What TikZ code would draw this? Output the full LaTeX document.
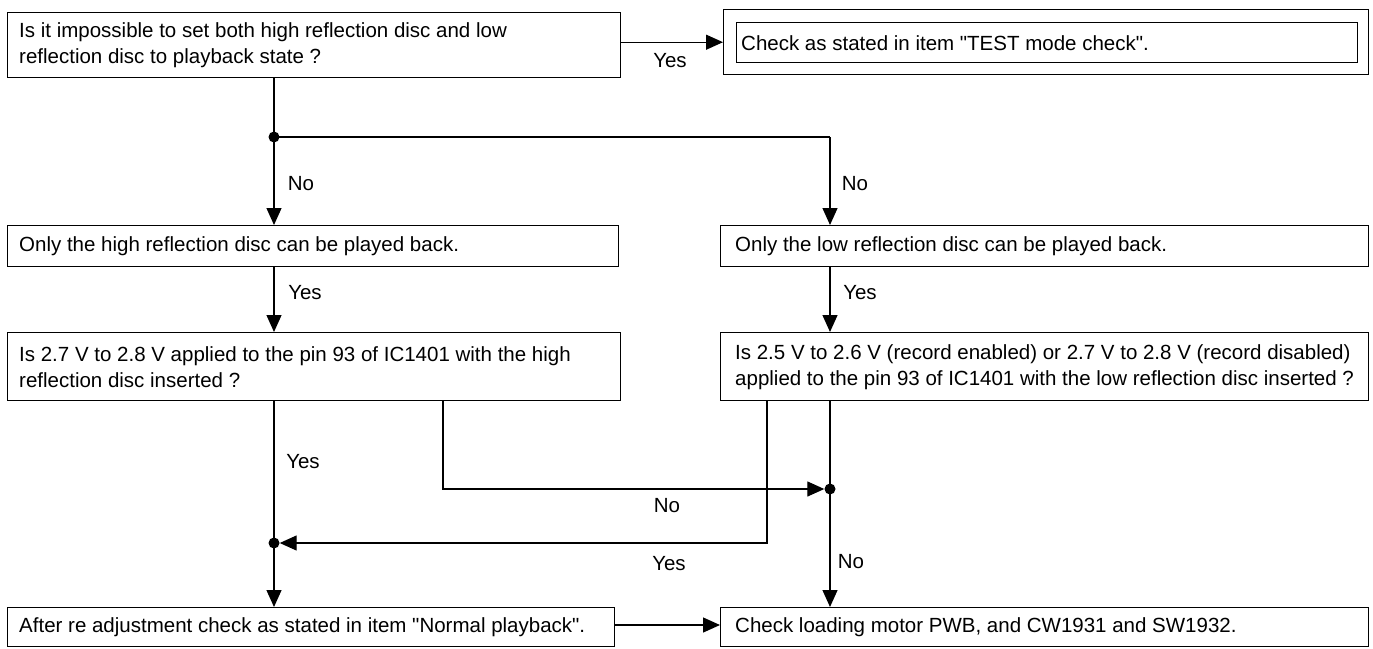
\documentclass[tikz,border=0pt]{standalone}
\usepackage{fontspec}
\setmainfont{Liberation Sans}[Ligatures=TeXOff]
\usetikzlibrary{arrows.meta}
\tikzset{
  frame/.style={draw, line width=1.4pt, anchor=north west, inner sep=0pt},
  txt/.style={anchor=west, inner sep=0pt, align=left, font=\fontsize{20.5}{26}\selectfont},
  conn/.style={line width=1.3pt},
  arr/.style={line width=1.3pt, -{Triangle[length=17pt,width=15pt]}},
  lbl/.style={font=\fontsize{20.5}{24}\selectfont, inner sep=0pt},
  dot/.style={circle, fill=black, inner sep=0pt, minimum size=11pt}
}
\begin{document}
\begin{tikzpicture}[x=1pt,y=-1pt]
\useasboundingbox (0,0) rectangle (1373,648);
% boxes
\node[frame, minimum width=613pt, minimum height=65pt] (A) at (7,12) {};
\node[txt] (At) at ([xshift=12pt]A.west) {Is it impossible to set both high reflection disc and low\\reflection disc to playback state ?};
\node[frame, minimum width=645pt, minimum height=65pt] (B) at (723,9) {};
\node[frame, minimum width=621pt, minimum height=40pt] (Bi) at (736,22) {};
\node[txt] (Bt) at ([xshift=5pt]Bi.west) {Check as stated in item "TEST mode check".};
\node[frame, minimum width=611pt, minimum height=41pt] (C) at (7,225) {};
\node[txt] (Ct) at ([xshift=12pt]C.west) {Only the high reflection disc can be played back.};
\node[frame, minimum width=648pt, minimum height=41pt] (D) at (720,225) {};
\node[txt] (Dt) at ([xshift=15pt]D.west) {Only the low reflection disc can be played back.};
\node[frame, minimum width=613pt, minimum height=68pt] (E) at (7,332) {};
\node[txt] (Et) at ([xshift=12pt]E.west) {Is 2.7 V to 2.8 V applied to the pin 93 of IC1401 with the high\\reflection disc inserted ?};
\node[frame, minimum width=648pt, minimum height=68pt] (F) at (720,332) {};
\node[txt] (Ft) at ([xshift=15pt]F.west) {Is 2.5 V to 2.6 V (record enabled) or 2.7 V to 2.8 V (record disabled)\\applied to the pin 93 of IC1401 with the low reflection disc inserted ?};
\node[frame, minimum width=607pt, minimum height=39pt] (G) at (7,607) {};
\node[txt] (Gt) at ([xshift=12pt]G.west) {After re adjustment check as stated in item "Normal playback".};
\node[frame, minimum width=648pt, minimum height=39pt] (H) at (720,607) {};
\node[txt] (Ht) at ([xshift=15pt]H.west) {Check loading motor PWB, and CW1931 and SW1932.};
% junctions
\node[dot] (j1) at (274,137) {};
\node[dot] (j2) at (830,489) {};
\node[dot] (j3) at (274,543) {};
\coordinate (c1) at (830,137);
\coordinate (e2) at (443,489);
\coordinate (f1) at (767,543);
\coordinate (gh) at (0,625);
% connectors
\draw[arr] (A.east |- B.west) -- (B.west);
\draw[conn] (A.south -| j1) -- (j1.center);
\draw[arr] (j1.center) -- (C.north -| j1);
\draw[conn] (j1.center) -- (c1);
\draw[arr] (c1) -- (D.north -| c1);
\draw[arr] (C.south -| j1) -- (E.north -| j1);
\draw[arr] (D.south -| c1) -- (F.north -| c1);
\draw[conn] (E.south -| j3) -- (j3.center);
\draw[arr] (j3.center) -- (G.north -| j3);
\draw[arr] (E.south -| e2) -- (e2) -- (j2.west);
\draw[conn] (F.south -| j2) -- (j2.center);
\draw[arr] (j2.center) -- (H.north -| j2);
\draw[arr] (F.south -| f1) -- (f1) -- (j3.east);
\draw[arr] (G.east |- gh) -- (H.west |- gh);
% labels
\node[lbl] (l1) at (670,61) {Yes};
\node[lbl] (l2) at (301,184) {No};
\node[lbl] (l3) at (855,184) {No};
\node[lbl] (l4) at (305,293) {Yes};
\node[lbl] (l5) at (860,293) {Yes};
\node[lbl] (l6) at (303,462) {Yes};
\node[lbl] (l7) at (667,506) {No};
\node[lbl] (l8) at (669,564) {Yes};
\node[lbl] (l9) at (851,562) {No};
\end{tikzpicture}
\end{document}
